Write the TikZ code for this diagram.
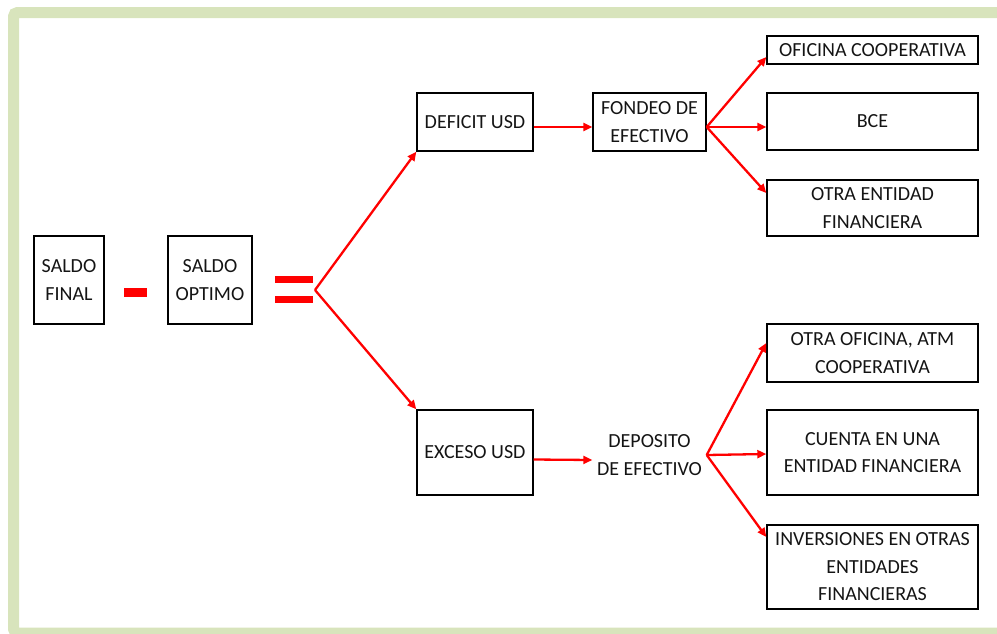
\documentclass[tikz,border=0pt]{standalone}
\usepackage{fontspec}
\setmainfont{Carlito}
\usepackage{tikz}
\usetikzlibrary{arrows.meta,positioning}

\definecolor{framegreen}{HTML}{D8E4BC}
\definecolor{boxtext}{HTML}{141414}

\tikzset{
  box/.style={draw=black, line width=1.4pt, align=center, inner sep=2pt,
    font=\fontsize{20}{27.5}\selectfont, text=boxtext},
  redarrow/.style={draw=red, line width=2.3pt, -{Triangle[length=9pt,width=8pt]}},
  bar/.style={fill=red, inner sep=0pt},
}

\begin{document}
\begin{tikzpicture}[x=1pt,y=-1pt]

\useasboundingbox (0,0) rectangle (997,633);
\clip (0,0) rectangle (997,633);

\draw[framegreen, line width=11pt, rounded corners=4pt] (13.5,12.5) rectangle (1008,633);% green frame

% left part: SALDO FINAL - SALDO OPTIMO =
\node[box, minimum width=70pt, minimum height=88pt] (saldofinal) at (69,280) {SALDO\\FINAL};
\node[bar, minimum width=23pt, minimum height=9pt] (minus) at (135.5,292.5) {};% minus sign
\node[box, minimum width=84pt, minimum height=88pt] (saldooptimo) at (210,280) {SALDO\\OPTIMO};
\node[bar, minimum width=38pt, minimum height=7pt] (eqtop) at (294,279.5) {};% equals sign
\node[bar, minimum width=38pt, minimum height=7pt] (eqbot) at (294,299.5) {};
\coordinate (split) at (315,290);

% deficit branch
\node[box, minimum width=116pt, minimum height=58pt] (deficit) at (475,122) {DEFICIT USD};
\node[box, minimum width=113pt, minimum height=58pt] (fondeo) at (649.5,122) {FONDEO DE\\EFECTIVO};
\node[box, minimum width=211pt, minimum height=28pt] (oficina) at (872.5,50) {OFICINA COOPERATIVA};
\node[box, minimum width=211pt, minimum height=57pt] (bce) at (872.5,121.5) {BCE};
\node[box, minimum width=211pt, minimum height=56pt] (otra) at (872.5,208) {OTRA ENTIDAD\\FINANCIERA};

% exceso branch
\node[box, minimum width=116pt, minimum height=85pt] (exceso) at (475,452.5) {EXCESO USD};
\node[box, draw=none, minimum width=113pt, minimum height=58pt] (deposito) at (649.5,455) {DEPOSITO\\DE EFECTIVO};
\node[box, minimum width=211pt, minimum height=58pt] (otraof) at (872.5,353) {OTRA OFICINA, ATM\\COOPERATIVA};
\node[box, minimum width=211pt, minimum height=85pt] (cuenta) at (872.5,452.5) {CUENTA EN UNA\\ENTIDAD FINANCIERA};
\node[box, minimum width=211pt, minimum height=84pt] (inversiones) at (872.5,567) {INVERSIONES EN OTRAS\\ENTIDADES\\FINANCIERAS};

\draw[redarrow] (split) -- (deficit.south west);
\draw[redarrow] (split) -- (exceso.north west);

\draw[redarrow] ([yshift=-5pt]deficit.east) -- ([yshift=-5pt]fondeo.west);
\coordinate (fsplit) at ([yshift=-5pt]fondeo.east);
\draw[redarrow] (fsplit) -- ([yshift=-7pt]oficina.west);
\draw[redarrow] (fsplit) -- ([yshift=-5.5pt]bce.west);
\draw[redarrow] (fsplit) -- ([yshift=15pt]otra.west);

\draw[redarrow] ([yshift=-7pt]exceso.east) -- ([yshift=-5pt]deposito.west);
\coordinate (dsplit) at (deposito.east);
\draw[redarrow] (dsplit) -- ([yshift=10pt]otraof.west);
\draw[redarrow] (dsplit) -- ([yshift=-1.5pt]cuenta.west);
\draw[redarrow] (dsplit) -- ([yshift=30pt]inversiones.west);

\end{tikzpicture}
\end{document}
